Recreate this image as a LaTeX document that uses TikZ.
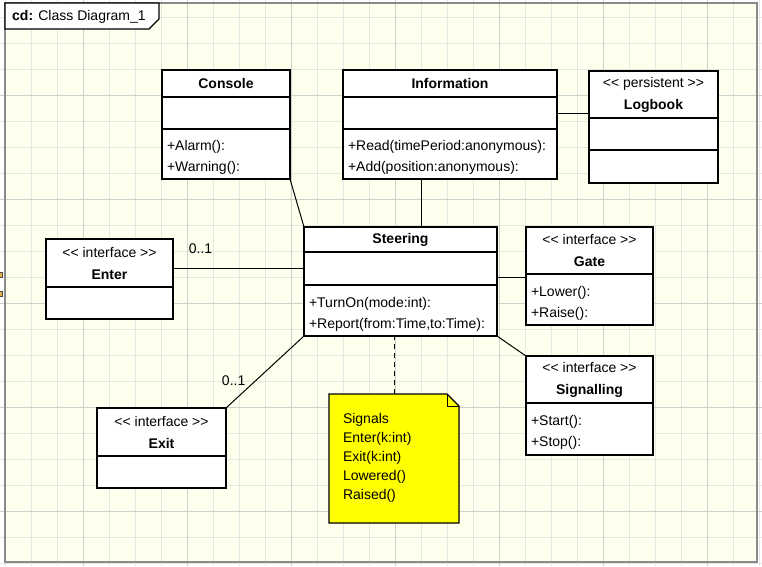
\documentclass[tikz,border=0pt]{standalone}
\usepackage{fontspec}
\setmainfont{Liberation Sans}
\usepackage{tikz}
\usetikzlibrary{positioning,calc}
\definecolor{canvas}{HTML}{FFFFEE}
\definecolor{gridminor}{HTML}{E6E6E2}
\definecolor{gridmajor}{HTML}{CFCFCB}
\definecolor{framegrey}{HTML}{8A8A8A}
\definecolor{notefill}{HTML}{FFFF00}
\definecolor{handle}{HTML}{E8B040}
\tikzset{
  box/.style={rectangle, draw=black, fill=white, line width=1.3pt, outer sep=0pt,
              inner xsep=5pt, inner ysep=2pt},
  clshead/.style={box, align=center, anchor=north west, minimum width=#1},
  clspart/.style={box, minimum width=#1},
  clsops/.style 2 args={box, align=left, minimum width=#1, text width=#2,
                        text height=17pt},
  notebox/.style={rectangle, anchor=north west, minimum width=130pt, minimum height=129pt,
                  outer sep=0pt, inner sep=0pt},
  notetext/.style={align=left, text width=102pt, inner sep=0pt,
                   font=\fontsize{14}{19}\selectfont},
  assoc/.style={draw=black, line width=1pt},
  dep/.style={assoc, dash pattern=on 5pt off 4pt},
  mult/.style={inner sep=2pt},
}

\begin{document}
\begin{tikzpicture}[x=1pt, y=-1pt, font=\fontsize{14}{21}\selectfont]
\useasboundingbox (0,0) rectangle (762,566);
% canvas, grid, frame
\fill[white] (0,0) rectangle (762,566);
\fill[canvas] (5,3) rectangle (757,562);
\foreach \k in {0,...,29} \draw[gridminor, line width=0.8pt] (5+26*\k,0) -- (5+26*\k,566);
\foreach \k in {0,...,21} \draw[gridminor, line width=0.8pt] (0,17+26*\k) -- (762,17+26*\k);
\foreach \k in {3,7,...,27} \draw[gridmajor, line width=0.8pt] (5+26*\k,0) -- (5+26*\k,566);
\foreach \k in {3,7,...,19} \draw[gridmajor, line width=0.8pt] (0,17+26*\k) -- (762,17+26*\k);
\draw[framegrey, line width=1.5pt] (5,3) rectangle (757,562);
\filldraw[fill=handle, draw=black!70, line width=0.5pt] (-2,272) rectangle (2,277);
\filldraw[fill=handle, draw=black!70, line width=0.5pt] (-2,291) rectangle (2,296);

% title tab
\draw[fill=white, line width=1.2pt] (5,3) -- (159,3) -- (159,19) -- (149,29) -- (5,29) -- cycle;
\node[anchor=west, inner sep=0pt] (title) at (12,17) {\textbf{cd:} Class Diagram\_1};

% classes
\node[clshead=128pt, minimum height=27pt] (con-head) at (162,70) {\textbf{Console}};
\node[clspart=128pt, minimum height=32pt, below=0pt of con-head] (con-attr) {};
\node[clsops={128pt}{118pt}, minimum height=50pt, below=0pt of con-attr] (con-ops) {+Alarm():\\+Warning():};

\node[clshead=214pt, minimum height=27pt] (inf-head) at (343,70) {\textbf{Information}};
\node[clspart=214pt, minimum height=32pt, below=0pt of inf-head] (inf-attr) {};
\node[clsops={214pt}{204pt}, minimum height=50pt, below=0pt of inf-attr] (inf-ops) {+Read(timePeriod:anonymous):\\+Add(position:anonymous):};

\node[clshead=129pt, minimum height=47pt] (log-head) at (589,71) {<{}< persistent >{}>\\[1pt]\textbf{Logbook}};
\node[clspart=129pt, minimum height=32pt, below=0pt of log-head] (log-attr) {};
\node[clspart=129pt, minimum height=33pt, below=0pt of log-attr] (log-ops) {};

\node[clshead=127pt, minimum height=48pt] (enter-head) at (46,239) {<{}< interface >{}>\\[1pt]\textbf{Enter}};
\node[clspart=127pt, minimum height=32pt, below=0pt of enter-head] (enter-attr) {};

\node[clshead=193pt, minimum height=25pt] (steer-head) at (304,227) {\textbf{Steering}};
\node[clspart=193pt, minimum height=33pt, below=0pt of steer-head] (steer-attr) {};
\node[clsops={193pt}{183pt}, minimum height=51pt, below=0pt of steer-attr] (steer-ops) {+TurnOn(mode:int):\\+Report(from:Time,to:Time):};

\node[clshead=127pt, minimum height=47pt] (gate-head) at (526,227) {<{}< interface >{}>\\[1pt]\textbf{Gate}};
\node[clsops={127pt}{117pt}, minimum height=51pt, below=0pt of gate-head] (gate-ops) {+Lower():\\+Raise():};

\node[clshead=127pt, minimum height=47pt] (sig-head) at (526,356) {<{}< interface >{}>\\[1pt]\textbf{Signalling}};
\node[clsops={127pt}{117pt}, minimum height=52pt, below=0pt of sig-head] (sig-ops) {+Start():\\+Stop():};

\node[clshead=129pt, minimum height=48pt] (exit-head) at (97,408) {<{}< interface >{}>\\[1pt]\textbf{Exit}};
\node[clspart=129pt, minimum height=32pt, below=0pt of exit-head] (exit-attr) {};

% note
\node[notebox] (note) at (329,394) {};
\draw[fill=notefill, line width=1.2pt] (note.north west) -- ([xshift=-12pt]note.north east)
  -- ([yshift=-12pt]note.north east) -- (note.south east) -- (note.south west) -- cycle;
\draw[line width=1pt] ([xshift=-12pt]note.north east) |- ([yshift=-12pt]note.north east);
\node[notetext] (note-text) at ([yshift=1pt]note.center) {Signals\\Enter(k:int)\\Exit(k:int)\\Lowered()\\Raised()};

% connectors
\draw[assoc] (con-ops.south east) -- (steer-head.north west);
\draw[assoc] ([xshift=-29pt]inf-ops.south) -- ([xshift=-29pt]inf-ops.south |- steer-head.north);
\draw[assoc] (inf-attr.east) -- (inf-attr.east -| log-head.west);
\draw[assoc] (steer-attr.west) -- node[mult, pos=0.79, above=12pt] (enter-mult) {0..1} (steer-attr.west -| enter-head.east);
\draw[assoc] ([yshift=-9pt]steer-attr.east) -- ([yshift=-9pt]steer-attr.east -| gate-ops.west);
\draw[assoc] (steer-ops.south east) -- (sig-head.north west);
\draw[assoc] (steer-ops.south west) -- node[mult, pos=0.72, anchor=south east] (exit-mult) {0..1} (exit-head.north east);
\draw[dep] (note.north) -- (note.north |- steer-ops.south);
\end{tikzpicture}
\end{document}
